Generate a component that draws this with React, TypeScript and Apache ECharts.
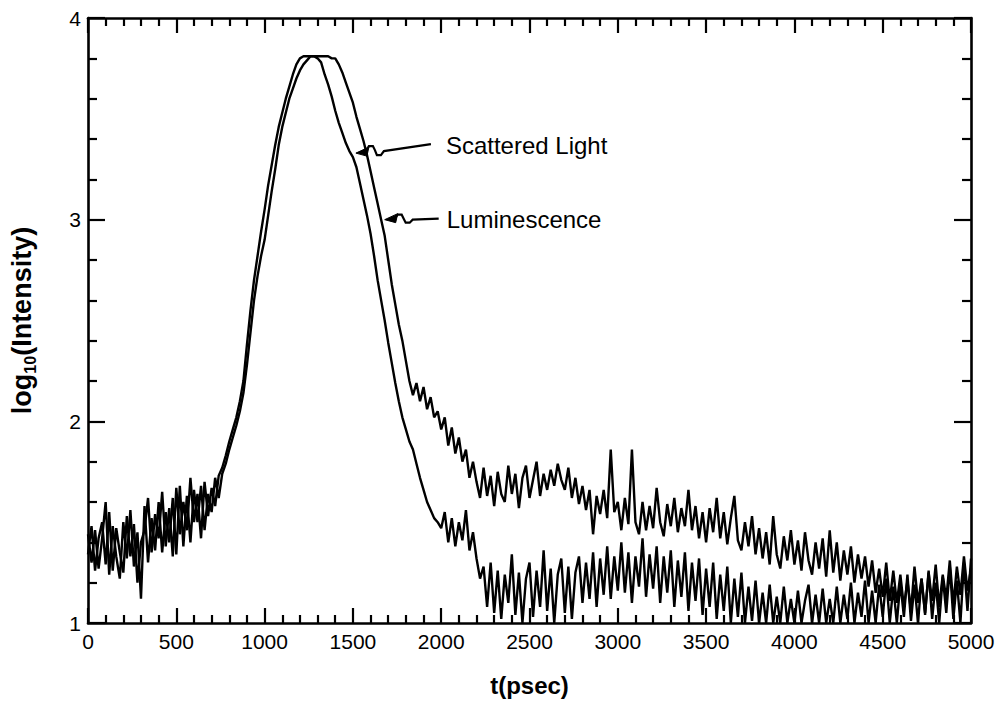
import React, { useEffect, useRef } from "react";
import * as echarts from "echarts";

// time step between channels (psec)
const T_STEP = 20;

// log10(Intensity), one value per 20 psec channel, t = 0 … 5000
const scatteredLight = [
  1.44, 1.30, 1.46, 1.27, 1.42, 1.60, 1.24, 1.48, 1.33, 1.22,
  1.50, 1.32, 1.56, 1.28, 1.45, 1.12, 1.58, 1.30, 1.52, 1.36,
  1.60, 1.35, 1.55, 1.40, 1.62, 1.34, 1.68, 1.38, 1.63, 1.40,
  1.66, 1.50, 1.68, 1.46, 1.64, 1.55, 1.72, 1.62, 1.74, 1.79,
  1.86, 1.92, 1.98, 2.05, 2.14, 2.28, 2.44, 2.60, 2.72, 2.82,
  2.90, 3.02, 3.14, 3.25, 3.37, 3.46, 3.53, 3.60, 3.65, 3.70,
  3.74, 3.77, 3.79, 3.81, 3.81, 3.80, 3.78, 3.72, 3.67, 3.61,
  3.54, 3.48, 3.43, 3.38, 3.34, 3.31, 3.26, 3.18, 3.10, 3.02,
  2.93, 2.82, 2.70, 2.60, 2.50, 2.39, 2.29, 2.19, 2.10, 2.02,
  1.96, 1.90, 1.86, 1.79, 1.72, 1.66, 1.60, 1.56, 1.52, 1.50,
  1.47, 1.55, 1.40, 1.52, 1.38, 1.50, 1.41, 1.56, 1.36, 1.45,
  1.32, 1.22, 1.28, 1.08, 1.30, 1.05, 1.26, 1.02, 1.24, 1.10,
  1.34, 1.04, 1.25, 1.00, 1.22, 1.30, 1.03, 1.26, 1.08, 1.36,
  1.06, 1.27, 1.00, 1.24, 1.32, 1.05, 1.28, 1.02, 1.25, 1.33,
  1.10, 1.30, 1.12, 1.35, 1.08, 1.32, 1.14, 1.38, 1.12, 1.33,
  1.16, 1.40, 1.15, 1.35, 1.10, 1.33, 1.18, 1.42, 1.13, 1.34,
  1.17, 1.38, 1.10, 1.33, 1.15, 1.36, 1.08, 1.31, 1.13, 1.35,
  1.06, 1.30, 1.11, 1.32, 1.04, 1.27, 1.08, 1.30, 1.02, 1.24,
  1.06, 1.28, 1.00, 1.22, 1.03, 1.25, 1.00, 1.18, 1.01, 1.21,
  1.00, 1.15, 1.00, 1.19, 1.00, 1.13, 1.00, 1.18, 1.00, 1.12,
  1.00, 1.16, 1.00, 1.11, 1.19, 1.00, 1.14, 1.00, 1.17, 1.00,
  1.12, 1.00, 1.18, 1.00, 1.14, 1.02, 1.20, 1.00, 1.15, 1.03,
  1.21, 1.00, 1.16, 1.00, 1.19, 1.03, 1.22, 1.00, 1.18, 1.00,
  1.20, 1.03, 1.24, 1.01, 1.19, 1.00, 1.22, 1.04, 1.26, 1.02,
  1.20, 1.00, 1.23, 1.05, 1.28, 1.02, 1.21, 1.00, 1.30, 1.06,
  1.32,
];

const luminescence = [
  1.34, 1.48, 1.26, 1.42, 1.50, 1.29, 1.55, 1.26, 1.47, 1.35,
  1.25, 1.53, 1.33, 1.49, 1.20, 1.40, 1.46, 1.62, 1.35, 1.54,
  1.42, 1.65, 1.38, 1.57, 1.33, 1.67, 1.44, 1.60, 1.46, 1.72,
  1.50, 1.64, 1.42, 1.70, 1.53, 1.67, 1.58, 1.73, 1.77, 1.83,
  1.90, 1.96, 2.02, 2.10, 2.20, 2.38, 2.55, 2.70, 2.82, 2.94,
  3.05, 3.17, 3.27, 3.37, 3.46, 3.53, 3.60, 3.66, 3.72, 3.77,
  3.80, 3.81, 3.81, 3.81, 3.81, 3.81, 3.81, 3.81, 3.81, 3.80,
  3.80, 3.77, 3.73, 3.68, 3.63, 3.58, 3.51, 3.45, 3.39, 3.32,
  3.24, 3.16, 3.08, 3.00, 2.92, 2.80, 2.68, 2.58, 2.48, 2.40,
  2.30, 2.20, 2.13, 2.19, 2.10, 2.17, 2.06, 2.12, 2.02, 2.05,
  1.96, 2.02, 1.88, 1.97, 1.84, 1.92, 1.80, 1.86, 1.72, 1.80,
  1.70, 1.62, 1.77, 1.63, 1.73, 1.58, 1.75, 1.64, 1.60, 1.78,
  1.64, 1.74, 1.57, 1.72, 1.78, 1.62, 1.71, 1.80, 1.63, 1.74,
  1.66, 1.76, 1.68, 1.79, 1.71, 1.66, 1.77, 1.62, 1.72, 1.59,
  1.68, 1.56, 1.66, 1.44, 1.63, 1.54, 1.66, 1.52, 1.86, 1.55,
  1.60, 1.46, 1.62, 1.49, 1.86, 1.50, 1.44, 1.60, 1.46, 1.58,
  1.47, 1.67, 1.50, 1.43, 1.59, 1.48, 1.62, 1.45, 1.57, 1.48,
  1.66, 1.46, 1.58, 1.42, 1.55, 1.40, 1.57, 1.45, 1.62, 1.42,
  1.55, 1.39, 1.52, 1.63, 1.41, 1.36, 1.50, 1.38, 1.53, 1.34,
  1.47, 1.32, 1.45, 1.29, 1.53, 1.34, 1.27, 1.43, 1.31, 1.46,
  1.29, 1.41, 1.26, 1.45, 1.31, 1.24, 1.40, 1.27, 1.42, 1.23,
  1.46, 1.25, 1.40, 1.21, 1.36, 1.24, 1.38, 1.20, 1.34, 1.22,
  1.33, 1.18, 1.31, 1.15, 1.27, 1.13, 1.30, 1.11, 1.26, 1.10,
  1.24, 1.08, 1.21, 1.06, 1.28, 1.10, 1.22, 1.05, 1.25, 1.11,
  1.29, 1.08, 1.24, 1.12, 1.31, 1.09, 1.28, 1.14, 1.33, 1.16,
  1.27,
];

const X_MIN = 0;
const X_MAX = 5000;
const X_INTERVAL = 500;
const Y_MIN = 1;
const Y_MAX = 4;
const Y_INTERVAL = 1;

// annotation labels and the data points their arrows point at
const annotations = [
  { label: "Scattered Light", at: [1517, 3.33] },
  { label: "Luminescence", at: [1680, 3.0] },
];

const FONT = "'Liberation Sans', Arial, Helvetica, sans-serif";

export default function App() {
  const ref = useRef<HTMLDivElement>(null);

  useEffect(() => {
    if (!ref.current) return;
    const chart = echarts.init(ref.current, undefined, { renderer: "svg" });

    const toPairs = (arr: number[]) => arr.map((v, i) => [i * T_STEP, v]);

    const tickCommon = {
      axisLine: { show: true, onZero: false, lineStyle: { color: "#000", width: 2.6 } },
      axisTick: { show: true, inside: true, length: 15, lineStyle: { color: "#000", width: 2.2 } },
      minorTick: { show: true, splitNumber: 5, length: 8, lineStyle: { color: "#000", width: 2.2 } },
      splitLine: { show: false },
      minorSplitLine: { show: false },
    };

    const xBase = {
      type: "value",
      min: X_MIN,
      max: X_MAX,
      interval: X_INTERVAL,
      ...tickCommon,
    };
    const yBase = {
      type: "value",
      min: Y_MIN,
      max: Y_MAX,
      interval: Y_INTERVAL,
      ...tickCommon,
      axisTick: { show: true, inside: true, length: 17, lineStyle: { color: "#000", width: 2.2 } },
      minorTick: { show: true, splitNumber: 5, length: 9, lineStyle: { color: "#000", width: 2.2 } },
    };

    chart.setOption({
      animation: false,
      backgroundColor: "#fff",
      grid: { left: 88, right: 29, top: 18, bottom: 81, containLabel: false },
      xAxis: [
        {
          ...xBase,
          position: "bottom",
          axisLabel: {
            color: "#000",
            fontSize: 21,
            fontFamily: FONT,
            margin: 8,
            formatter: (v: number) => String(v),
          },
          name: "t(psec)",
          nameLocation: "middle",
          nameGap: 50,
          nameTextStyle: { color: "#000", fontSize: 24, fontWeight: "bold", fontFamily: FONT },
        },
        { ...xBase, position: "top", axisLabel: { show: false } },
      ],
      yAxis: [
        {
          ...yBase,
          position: "left",
          axisLabel: {
            color: "#000",
            fontSize: 21,
            fontFamily: FONT,
            margin: 7,
            formatter: (v: number) => String(v),
          },
          name: "{a|log}{b|10}{a|(Intensity)}",
          nameLocation: "middle",
          nameRotate: 90,
          nameGap: 50,
          nameTextStyle: {
            color: "#000",
            rich: {
              a: { fontSize: 27, fontWeight: "bold", fontFamily: FONT, color: "#000", lineHeight: 32, verticalAlign: "middle" },
              b: { fontSize: 16, fontWeight: "bold", fontFamily: FONT, color: "#000", lineHeight: 17, verticalAlign: "bottom" },
            },
          },
        },
        { ...yBase, position: "right", axisLabel: { show: false } },
      ],
      series: [
        {
          name: "Scattered Light",
          type: "line",
          data: toPairs(scatteredLight),
          showSymbol: false,
          lineStyle: { color: "#000", width: 2.4 },
          clip: true,
        },
        {
          name: "Luminescence",
          type: "line",
          data: toPairs(luminescence),
          showSymbol: false,
          lineStyle: { color: "#000", width: 2.4 },
          clip: true,
        },
      ],
    });

    // annotations anchored to data coordinates
    const squiggles = [
      [[10, -2], [13, -7], [17, -7], [19, -3], [21, 2], [25, 2], [28, -2], [75, -9]],
      [[10, -1], [13, -5], [17, -5], [19, -1], [21, 3], [25, 3], [28, 0], [54, -1]],
    ];
    const textOffsets = [[90, -8], [62, 0]];
    const elements: any[] = [];
    annotations.forEach((a, k) => {
      const p = chart.convertToPixel({ xAxisIndex: 0, yAxisIndex: 0 }, a.at) as number[];
      const [px, py] = p;
      elements.push({
        type: "polyline",
        shape: { points: squiggles[k].map(([dx, dy]) => [px + dx, py + dy]) },
        style: { stroke: "#000", lineWidth: 2.2, fill: null },
      });
      elements.push({
        type: "polygon",
        shape: { points: [[px, py], [px + 13, py - 6], [px + 11, py + 3]] },
        style: { fill: "#000", stroke: "#000", lineWidth: 1 },
      });
      elements.push({
        type: "text",
        x: px + textOffsets[k][0],
        y: py + textOffsets[k][1],
        style: {
          text: a.label,
          fontSize: 24,
          fontFamily: FONT,
          fill: "#000",
          verticalAlign: "middle",
          align: "left",
        },
      });
    });
    chart.setOption({ graphic: elements });

    return () => chart.dispose();
  }, []);

  return (
    <div
      ref={ref}
      style={{ position: "fixed", left: 0, top: 0, width: 1000, height: 704, background: "#fff" }}
    />
  );
}
